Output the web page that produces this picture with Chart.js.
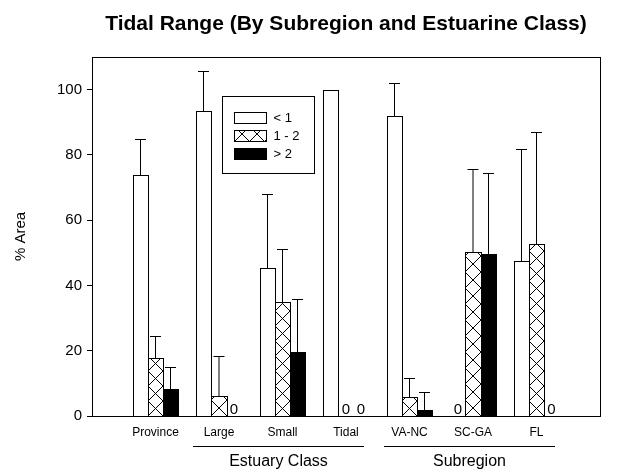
<!DOCTYPE html>
<html>
<head>
<meta charset="utf-8">
<script src="https://cdn.jsdelivr.net/npm/chart.js@4.4.1/dist/chart.umd.min.js"></script>
<style>
  html, body { margin: 0; background: #fff; }
  #wrap { width: 617px; height: 470px; }
</style>
</head>
<body>
<div id="wrap"><canvas id="tidal"></canvas></div>
<script>
/* Tidal range, % area by estuary class and subregion */
const categories = ['', 'Province', 'Large', 'Small', 'Tidal', 'VA-NC', 'SC-GA', 'FL', ''];
const seriesNames = ['< 1', '1 - 2', '> 2'];

const lowVals  = [null, 73.8, 93.5, 45.4, 100, 91.8, 0, 47.4, null];
const midVals  = [null, 17.7, 6.2, 34.9, 0, 5.9, 50.4, 52.6, null];
const highVals = [null, 8.3, 0, 19.6, 0, 1.7, 49.5, 0, null];

// upper end of each error bar (null = none drawn)
const lowErrTop  = [null, 85.0, 105.7, 67.9, null, 102.0, null, 81.8, null];
const midErrTop  = [null, 24.6, 18.5, 51.1, null, 11.7, 75.8, 87.1, null];
const highErrTop = [null, 15.0, null, 35.7, null, 7.4, 74.6, null, null];

const yTicks = [0, 20, 40, 60, 80, 100];
const groupLabels = ['Estuary Class', 'Subregion'];
const groupFrom = ['Large', 'VA-NC'];
const groupTo = ['Tidal', 'FL'];

const barFills = ['#fff', 'hatch', '#000'];

const FONT = "'Liberation Sans', Arial, Helvetica, sans-serif";
Chart.defaults.font.family = FONT;
Chart.defaults.color = '#000';

const errTops = [lowErrTop, midErrTop, highErrTop];

// pixel-snapped rectangle of a bar element
function barRect(el) {
  const p = el.getProps(['x', 'y', 'base', 'width'], true);
  const L = Math.round(p.x - p.width / 2), R = Math.round(p.x + p.width / 2);
  const T = Math.round(Math.min(p.y, p.base)), B = Math.round(Math.max(p.y, p.base));
  return { L, R, T, B, cx: (L + R) / 2 };
}

function drawCross(ctx, left, top, w, h, cell) {
  ctx.save();
  ctx.beginPath();
  ctx.rect(left, top, w, h);
  ctx.clip();
  ctx.beginPath();
  for (let cy = top + h; cy > top - cell; cy -= cell) {
    for (let cx = left; cx < left + w; cx += cell) {
      ctx.moveTo(cx, cy); ctx.lineTo(cx + cell, cy - cell);
      ctx.moveTo(cx + cell, cy); ctx.lineTo(cx, cy - cell);
    }
  }
  ctx.strokeStyle = '#000';
  ctx.lineWidth = 1;
  ctx.stroke();
  ctx.restore();
}

// paints the bars crisp: plain white, cross-hatched, solid black
const barPaintPlugin = {
  id: 'barPaint',
  afterDatasetDraw(chart, args) {
    const ctx = chart.ctx;
    const di = args.index;
    const data = chart.data.datasets[di].data;
    args.meta.data.forEach((el, i) => {
      if (!data[i]) return;
      const r = barRect(el);
      const w = r.R - r.L, h = r.B - r.T;
      ctx.save();
      ctx.fillStyle = barFills[di] === '#000' ? '#000' : '#fff';
      ctx.fillRect(r.L, r.T, w, h);
      if (barFills[di] === 'hatch') drawCross(ctx, r.L, r.T, w, h, w);
      ctx.strokeStyle = '#000';
      ctx.lineWidth = 1;
      ctx.strokeRect(r.L + 0.5, r.T + 0.5, w, h);
      ctx.restore();
    });
  }
};

const errorBarPlugin = {
  id: 'errorBars',
  afterDatasetsDraw(chart) {
    const ctx = chart.ctx;
    const y = chart.scales.y;
    ctx.save();
    ctx.strokeStyle = '#000';
    ctx.lineWidth = 1;
    chart.data.datasets.forEach((ds, di) => {
      chart.getDatasetMeta(di).data.forEach((el, i) => {
        const top = errTops[di][i];
        if (top == null) return;
        const r = barRect(el);
        const yt = Math.round(y.getPixelForValue(top)) + 0.5;
        ctx.beginPath();
        ctx.moveTo(r.cx, r.T);
        ctx.lineTo(r.cx, yt);
        ctx.moveTo(r.cx - 5.5, yt);
        ctx.lineTo(r.cx + 5.5, yt);
        ctx.stroke();
      });
    });
    ctx.restore();
  }
};

const zeroLabelPlugin = {
  id: 'zeroLabels',
  afterDatasetsDraw(chart) {
    const ctx = chart.ctx;
    const base = chart.scales.y.getPixelForValue(0);
    ctx.save();
    ctx.font = '15px ' + FONT;
    ctx.fillStyle = '#000';
    ctx.textAlign = 'center';
    ctx.textBaseline = 'alphabetic';
    chart.data.datasets.forEach((ds, di) => {
      const meta = chart.getDatasetMeta(di);
      ds.data.forEach((v, i) => {
        if (v !== 0) return;
        ctx.fillText('0', meta.data[i].x, base - 2);
      });
    });
    ctx.restore();
  }
};

const framePlugin = {
  id: 'frame',
  afterDraw(chart) {
    const a = chart.chartArea;
    const ctx = chart.ctx;
    ctx.save();
    ctx.strokeStyle = '#000';
    ctx.lineWidth = 1;
    ctx.strokeRect(Math.round(a.left) + 0.5, Math.round(a.top) + 0.5, Math.round(a.right - a.left), Math.round(a.bottom - a.top));
    ctx.restore();
  }
};

const legendPlugin = {
  id: 'boxLegend',
  afterDraw(chart) {
    const a = chart.chartArea;
    const ctx = chart.ctx;
    const bx = Math.round(a.left + 130) + 0.5, by = Math.round(a.top + 39) + 0.5;
    const bw = 92, bh = 77;
    ctx.save();
    ctx.fillStyle = '#fff';
    ctx.fillRect(bx, by, bw, bh);
    ctx.strokeStyle = '#000';
    ctx.lineWidth = 1;
    ctx.strokeRect(bx, by, bw, bh);
    ctx.font = '13px ' + FONT;
    ctx.textBaseline = 'middle';
    ctx.textAlign = 'left';
    chart.data.datasets.forEach((ds, i) => {
      const sx = bx + 12, sw = 32, sh = 11;
      const top = Math.round(by + 15 + i * 18.3) + 0.5;
      ctx.fillStyle = barFills[i] === '#000' ? '#000' : '#fff';
      ctx.fillRect(sx, top, sw, sh);
      if (barFills[i] === 'hatch') drawCross(ctx, sx, top, sw, sh, 15);
      ctx.strokeStyle = '#000';
      ctx.strokeRect(sx, top, sw, sh);
      ctx.fillStyle = '#000';
      ctx.fillText(ds.label, sx + sw + 7, top + sh / 2 + 0.5);
    });
    ctx.restore();
  }
};

const groupPlugin = {
  id: 'groups',
  afterDraw(chart) {
    const x = chart.scales.x;
    const ctx = chart.ctx;
    ctx.save();
    ctx.strokeStyle = '#000';
    ctx.lineWidth = 1;
    ctx.fillStyle = '#000';
    ctx.font = '16px ' + FONT;
    ctx.textAlign = 'center';
    ctx.textBaseline = 'middle';
    groupLabels.forEach((g, i) => {
      const x0 = Math.round(x.getPixelForValue(categories.indexOf(groupFrom[i])) - 26);
      const x1 = Math.round(x.getPixelForValue(categories.indexOf(groupTo[i])) + 18);
      ctx.beginPath();
      ctx.moveTo(x0, 446.5);
      ctx.lineTo(x1, 446.5);
      ctx.stroke();
      ctx.fillText(g, (x0 + x1) / 2, 462);
    });
    ctx.restore();
  }
};

new Chart(document.getElementById('tidal'), {
  type: 'bar',
  data: {
    labels: categories,
    datasets: [
      { label: seriesNames[0], data: lowVals,  backgroundColor: 'rgba(0,0,0,0)', borderWidth: 0 },
      { label: seriesNames[1], data: midVals,  backgroundColor: 'rgba(0,0,0,0)', borderWidth: 0 },
      { label: seriesNames[2], data: highVals, backgroundColor: 'rgba(0,0,0,0)', borderWidth: 0 }
    ]
  },
  options: {
    responsive: true,
    maintainAspectRatio: false,
    animation: false,
    categoryPercentage: 0.709,
    barPercentage: 1,
    layout: { padding: { left: 0, right: 17, top: 0, bottom: 0 } },
    plugins: {
      legend: { display: false },
      tooltip: { enabled: false },
      title: {
        display: true,
        fullSize: false,
        text: 'Tidal Range (By Subregion and Estuarine Class)',
        font: { size: 21, weight: 'bold' },
        color: '#000',
        padding: { top: 12, bottom: 19.8 }
      }
    },
    scales: {
      x: {
        offset: false,
        grid: { display: false, drawTicks: false },
        border: { display: true, color: '#000' },
        ticks: { font: { size: 12 }, color: '#000', maxRotation: 0, autoSkip: false, padding: 9 },
        afterFit(s) { s.height = 54; }
      },
      y: {
        min: 0,
        max: 110,
        afterBuildTicks(s) { s.ticks = yTicks.map(v => ({ value: v })); },
        grid: { drawOnChartArea: false, drawTicks: true, tickLength: 5, color: '#000' },
        border: { display: true, color: '#000' },
        ticks: { font: { size: 15 }, color: '#000', padding: 5 },
        title: { display: true, text: '% Area', font: { size: 15 }, color: '#000', padding: { top: 12, bottom: 0 } },
        afterFit(s) { s.width = 92; }
      }
    }
  },
  plugins: [barPaintPlugin, errorBarPlugin, zeroLabelPlugin, framePlugin, legendPlugin, groupPlugin]
});
</script>
</body>
</html>
